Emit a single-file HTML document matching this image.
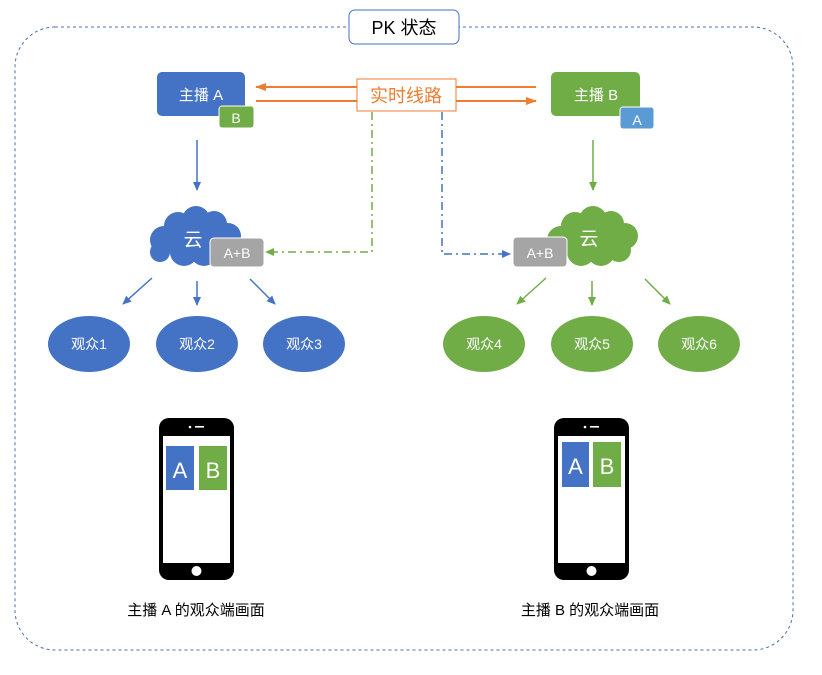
<!DOCTYPE html>
<html><head><meta charset="utf-8"><style>
html,body{margin:0;padding:0;background:#fff;width:822px;height:675px;overflow:hidden}
text{font-family:"Liberation Sans","Noto Sans CJK SC",sans-serif}
</style></head><body>
<svg width="822" height="675" viewBox="0 0 822 675" xmlns="http://www.w3.org/2000/svg">
<defs>
<marker id="mb" markerWidth="10" markerHeight="10" refX="8" refY="5" orient="auto" markerUnits="userSpaceOnUse"><path d="M0,1 L9,5 L0,9 Z" fill="#4472c4"/></marker>
<marker id="mg" markerWidth="10" markerHeight="10" refX="8" refY="5" orient="auto" markerUnits="userSpaceOnUse"><path d="M0,1 L9,5 L0,9 Z" fill="#70ad47"/></marker>
<marker id="mo" markerWidth="12" markerHeight="10" refX="10" refY="5" orient="auto" markerUnits="userSpaceOnUse"><path d="M0,1 L11,5 L0,9 Z" fill="#ed7d31"/></marker>
<g id="cloud">
<circle cx="0" cy="8" r="14"/><circle cx="14" cy="-6" r="14"/><circle cx="32" cy="-12" r="14"/><circle cx="50" cy="-8" r="13"/><circle cx="64" cy="4" r="13"/><circle cx="58" cy="18" r="12"/><circle cx="40" cy="20" r="14"/><circle cx="20" cy="20" r="14"/><circle cx="-4" cy="20" r="10"/><rect x="0" y="-4" width="60" height="24"/>
</g>
</defs>
<rect x="15" y="27" width="778" height="623" rx="40" fill="none" stroke="#4a6fb0" stroke-width="1" stroke-dasharray="3,3"/>
<rect x="349" y="10" width="110" height="34" rx="6" fill="#fff" stroke="#4472c4"/>
<text x="404" y="34" font-size="18" text-anchor="middle" fill="#000">PK 状态</text>

<rect x="157" y="72" width="88" height="44" rx="5" fill="#4472c4"/>
<text x="201" y="100" font-size="15" text-anchor="middle" fill="#fff">主播 A</text>
<rect x="219" y="106" width="35" height="22" rx="3" fill="#70ad47" stroke="#fff"/>
<text x="236" y="123" font-size="14" text-anchor="middle" fill="#fff">B</text>
<rect x="551" y="72" width="89" height="44" rx="5" fill="#70ad47"/>
<text x="596" y="100" font-size="15" text-anchor="middle" fill="#fff">主播 B</text>
<rect x="620" y="107" width="34" height="22" rx="3" fill="#5b9bd5" stroke="#fff"/>
<text x="637" y="125" font-size="14" text-anchor="middle" fill="#fff">A</text>

<line x1="536" y1="87" x2="256" y2="87" stroke="#ed7d31" stroke-width="2" marker-end="url(#mo)"/>
<line x1="256" y1="101" x2="536" y2="101" stroke="#ed7d31" stroke-width="2" marker-end="url(#mo)"/>
<rect x="357" y="79" width="99" height="32" fill="#fff" stroke="#ed7d31"/>
<text x="406" y="102" font-size="18" text-anchor="middle" fill="#ed7d31">实时线路</text>

<path d="M372,112 V252 H266" fill="none" stroke="#70ad47" stroke-width="1.5" stroke-dasharray="8,4,2,4" marker-end="url(#mg)"/>
<path d="M442,112 V254 H510" fill="none" stroke="#4472c4" stroke-width="1.5" stroke-dasharray="8,4,2,4" marker-end="url(#mb)"/>

<line x1="197" y1="140" x2="197" y2="190" stroke="#4472c4" stroke-width="1.5" marker-end="url(#mb)"/>
<line x1="593" y1="140" x2="593" y2="190" stroke="#70ad47" stroke-width="1.5" marker-end="url(#mg)"/>

<use href="#cloud" x="164" y="232" fill="#4472c4"/>
<text x="193" y="246" font-size="19" text-anchor="middle" fill="#fff">云</text>
<rect x="210" y="238" width="54" height="29" rx="4" fill="#a5a5a5" stroke="#fff"/>
<text x="237" y="258" font-size="14" text-anchor="middle" fill="#fff">A+B</text>
<use href="#cloud" x="561" y="232" fill="#70ad47"/>
<text x="589" y="245" font-size="19" text-anchor="middle" fill="#fff">云</text>
<rect x="513" y="237" width="54" height="30" rx="4" fill="#a5a5a5" stroke="#fff"/>
<text x="540" y="258" font-size="14" text-anchor="middle" fill="#fff">A+B</text>

<g stroke="#4472c4" stroke-width="1.5">
<line x1="152" y1="278" x2="123" y2="304" marker-end="url(#mb)"/>
<line x1="197" y1="281" x2="197" y2="305" marker-end="url(#mb)"/>
<line x1="250" y1="279" x2="275" y2="304" marker-end="url(#mb)"/>
</g>
<g stroke="#70ad47" stroke-width="1.5">
<line x1="546" y1="278" x2="517" y2="304" marker-end="url(#mg)"/>
<line x1="592" y1="281" x2="592" y2="305" marker-end="url(#mg)"/>
<line x1="645" y1="279" x2="670" y2="304" marker-end="url(#mg)"/>
</g>

<g font-size="14" text-anchor="middle" fill="#fff">
<ellipse cx="89" cy="344" rx="41" ry="28" fill="#4472c4"/><text x="89" y="349">观众1</text>
<ellipse cx="197" cy="344" rx="41" ry="28" fill="#4472c4"/><text x="197" y="349">观众2</text>
<ellipse cx="304" cy="344" rx="41" ry="28" fill="#4472c4"/><text x="304" y="349">观众3</text>
<ellipse cx="484" cy="344" rx="41" ry="28" fill="#70ad47"/><text x="484" y="349">观众4</text>
<ellipse cx="592" cy="344" rx="41" ry="28" fill="#70ad47"/><text x="592" y="349">观众5</text>
<ellipse cx="699" cy="344" rx="41" ry="28" fill="#70ad47"/><text x="699" y="349">观众6</text>
</g>

<g>
<rect x="159" y="418" width="75" height="162" rx="10" fill="#000"/>
<rect x="163" y="436" width="67" height="127" fill="#fff"/>
<circle cx="190" cy="427" r="1.3" fill="#fff"/><rect x="195" y="426" width="9" height="1.6" fill="#fff"/>
<circle cx="196.5" cy="571" r="5" fill="#fff"/>
<rect x="166" y="446" width="28" height="44" fill="#4472c4"/><text x="180" y="478" font-size="22" text-anchor="middle" fill="#fff">A</text>
<rect x="199" y="446" width="28" height="44" fill="#70ad47"/><text x="213" y="478" font-size="22" text-anchor="middle" fill="#fff">B</text>
</g>
<g>
<rect x="554" y="418" width="75" height="162" rx="10" fill="#000"/>
<rect x="558" y="436" width="67" height="127" fill="#fff"/>
<circle cx="585" cy="427" r="1.3" fill="#fff"/><rect x="590" y="426" width="9" height="1.6" fill="#fff"/>
<circle cx="591.5" cy="571" r="5" fill="#fff"/>
<rect x="562" y="442" width="27" height="45" fill="#4472c4"/><text x="575.5" y="474" font-size="22" text-anchor="middle" fill="#fff">A</text>
<rect x="593" y="442" width="28" height="45" fill="#70ad47"/><text x="607" y="474" font-size="22" text-anchor="middle" fill="#fff">B</text>
</g>
<text x="196" y="615" font-size="15" text-anchor="middle" fill="#000">主播 A 的观众端画面</text>
<text x="590" y="615" font-size="15" text-anchor="middle" fill="#000">主播 B 的观众端画面</text>
</svg>
</body></html>
